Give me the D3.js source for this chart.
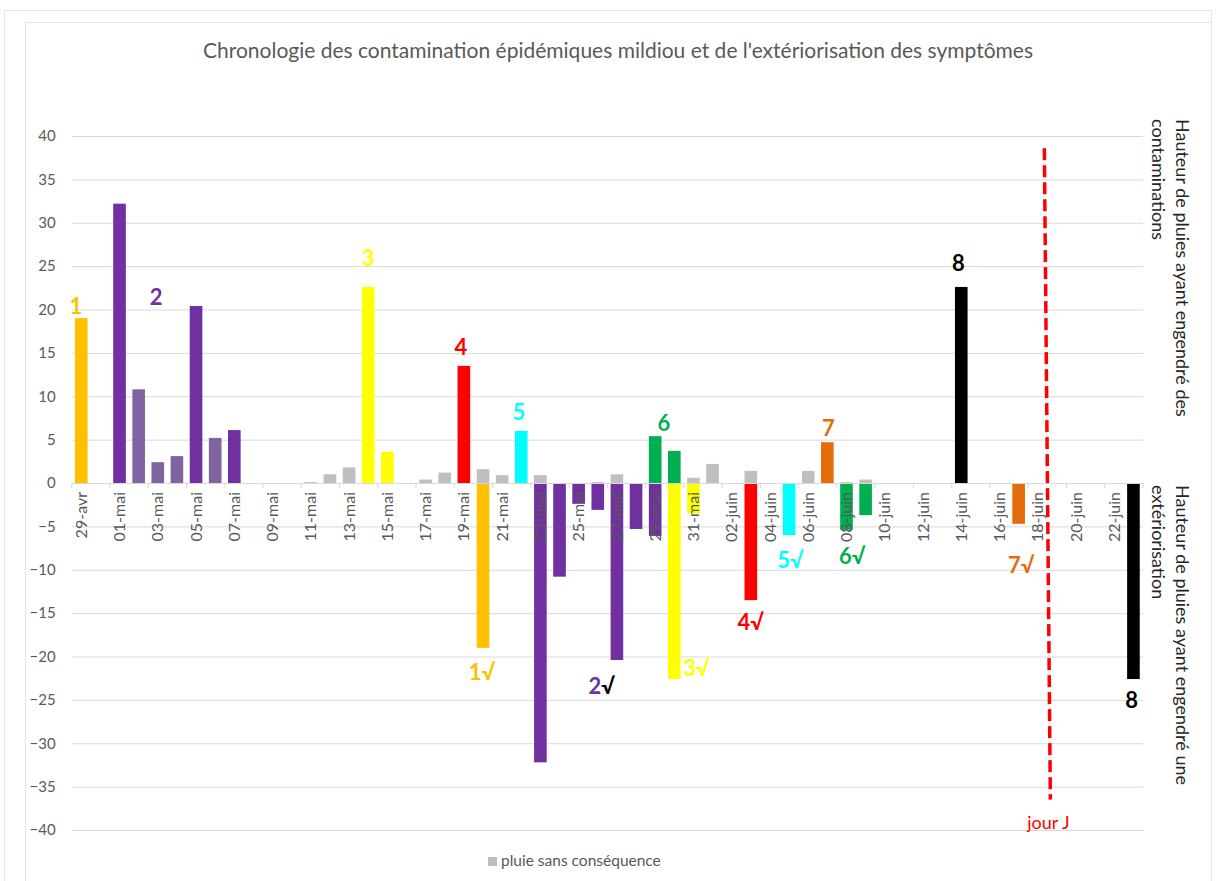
<!DOCTYPE html>
<html>
<head>
<meta charset="utf-8">
<script src="https://cdn.jsdelivr.net/npm/d3@7"></script>
<style>
  body { margin: 0; background: #fff; }
  svg text { font-family: Lato, "Open Sans", sans-serif; }
</style>
</head>
<body>
<script>
// categories (one bar slot per day)
const categories = ["29-avr","30-avr",
  "01-mai","02-mai","03-mai","04-mai","05-mai","06-mai","07-mai","08-mai","09-mai","10-mai",
  "11-mai","12-mai","13-mai","14-mai","15-mai","16-mai","17-mai","18-mai","19-mai","20-mai",
  "21-mai","22-mai","23-mai","24-mai","25-mai","26-mai","27-mai","28-mai","29-mai","30-mai","31-mai",
  "01-juin","02-juin","03-juin","04-juin","05-juin","06-juin","07-juin","08-juin","09-juin","10-juin",
  "11-juin","12-juin","13-juin","14-juin","15-juin","16-juin","17-juin","18-juin","19-juin","20-juin",
  "21-juin","22-juin","23-juin"];

const tickLabels = ["29-avr","01-mai","03-mai","05-mai","07-mai","09-mai","11-mai","13-mai","15-mai",
  "17-mai","19-mai","21-mai","23-mai","25-mai","27-mai","29-mai","31-mai","02-juin","04-juin",
  "06-juin","08-juin","10-juin","12-juin","14-juin","16-juin","18-juin","20-juin","22-juin"];

const yTicks = [40, 35, 30, 25, 20, 15, 10, 5, 0, -5, -10, -15, -20, -25, -30, -35, -40];

// rain that caused a contamination  [day, mm, episode]
const contamination = [
  ["29-avr", 19.0, "1"], ["01-mai", 32.2, "2"], ["02-mai", 10.8, "2b"], ["03-mai", 2.4, "2b"],
  ["04-mai", 3.1, "2b"], ["05-mai", 20.4, "2"], ["06-mai", 5.2, "2b"], ["07-mai", 6.1, "2"],
  ["14-mai", 22.6, "3"], ["15-mai", 3.6, "3"], ["19-mai", 13.5, "4"], ["22-mai", 6.0, "5"],
  ["29-mai", 5.4, "6"], ["30-mai", 3.7, "6"], ["07-juin", 4.7, "7"], ["14-juin", 22.6, "8"]
];

// same rain, drawn negative on the day the symptoms came out
const exteriorisation = [
  ["20-mai", -19.0, "1"], ["23-mai", -32.2, "2"], ["24-mai", -10.8, "2"], ["25-mai", -2.4, "2"],
  ["26-mai", -3.1, "2"], ["27-mai", -20.4, "2"], ["28-mai", -5.3, "2"], ["29-mai", -6.1, "2"],
  ["30-mai", -22.6, "3"], ["31-mai", -3.5, "3"], ["03-juin", -13.5, "4"], ["05-juin", -6.0, "5"],
  ["08-juin", -5.4, "6"], ["09-juin", -3.7, "6"], ["17-juin", -4.7, "7"], ["23-juin", -22.6, "8"]
];

// pluie sans conséquence [day, mm]
const pluieSansConsequence = [
  ["11-mai", 0.1], ["12-mai", 1.0], ["13-mai", 1.8], ["17-mai", 0.4], ["18-mai", 1.2],
  ["20-mai", 1.6], ["21-mai", 0.9], ["23-mai", 0.9], ["26-mai", 0.1], ["27-mai", 1.0],
  ["31-mai", 0.6], ["01-juin", 2.2], ["03-juin", 1.4], ["06-juin", 1.4], ["08-juin", 0.1],
  ["09-juin", 0.4]
];

// episode labels [text, episode, day, shift (in days), value]
const labels = [
  ["1", "1", "29-avr", -0.28, 19.5], ["2", "2", "03-mai", -0.09, 20.5], ["3", "3", "14-mai", 0, 25.0],
  ["4", "4", "19-mai", -0.16, 14.8], ["5", "5", "22-mai", -0.13, 7.3], ["6", "6", "29-mai", 0.45, 6.0],
  ["7", "7", "07-juin", 0.05, 5.4], ["8", "8", "14-juin", -0.15, 24.4],
  ["1√", "1", "20-mai", -0.05, -22.7], ["2√", "2", "26-mai", 0.2, -24.3], ["3√", "3", "31-mai", 0.16, -22.3],
  ["4√", "4", "03-juin", 0, -16.9], ["5√", "5", "05-juin", 0.07, -9.8], ["6√", "6", "08-juin", 0.3, -9.3],
  ["7√", "7", "17-juin", 0.13, -10.4], ["8", "8", "23-juin", -0.1, -25.9]
];

const jourJ = "19-juin";
const jourJRange = [38.6, -36.5];

const colors = {
  "1": "#FFC000", "2": "#7030A0", "2b": "#8064A2", "3": "#FFFF00", "4": "#FF0000",
  "5": "#00FFFF", "6": "#00B050", "7": "#E46C0A", "8": "#000000"
};
const grey = "#BFBFBF";

const W = 1216, H = 881;
const plotLeft = 71.7, plotRight = 1143, plotTop = 136, plotBottom = 830;

const svg = d3.select("body").append("svg")
  .attr("width", W).attr("height", H);

// frame
svg.append("rect").attr("x", 4.5).attr("y", 10.5).attr("width", 1207).attr("height", 900)
  .attr("fill", "none").attr("stroke", "#E4E4E4").attr("stroke-width", 1);
svg.append("path").attr("d", "M25.5,890V22.5H1211")
  .attr("fill", "none").attr("stroke", "#E4E4E4");

const x = d3.scaleBand().domain(categories).range([plotLeft, plotRight])
  .paddingInner(0.34).paddingOuter(0.17);
const y = d3.scaleLinear().domain([-40, 40]).range([plotBottom, plotTop]);
const step = x.step();

// gridlines + y labels
const yAxis = svg.append("g").attr("transform", `translate(${plotLeft},0)`)
  .call(d3.axisLeft(y).tickValues(yTicks).tickSize(-(plotRight - plotLeft)).tickPadding(16));
yAxis.select(".domain").remove();
yAxis.selectAll(".tick line").attr("stroke", "#D9D9D9");
yAxis.selectAll(".tick text").attr("fill", "#595959").style("font-size", "15px");

function bars(data, fill) {
  svg.append("g").selectAll("rect").data(data).enter().append("rect")
    .attr("x", d => x(d[0]))
    .attr("width", x.bandwidth())
    .attr("y", d => y(Math.max(0, d[1])))
    .attr("height", d => Math.abs(y(d[1]) - y(0)))
    .attr("fill", fill);
}
bars(pluieSansConsequence, grey);
bars(contamination, d => colors[d[2]]);
bars(exteriorisation, d => colors[d[2]]);

// x axis
const xAxis = svg.append("g").attr("transform", `translate(0,${y(0)})`)
  .call(d3.axisBottom(x).tickValues(tickLabels).tickSize(0));
xAxis.select(".domain").attr("stroke", "#D9D9D9");
xAxis.selectAll(".tick text")
  .attr("transform", "rotate(-90)")
  .attr("x", -9).attr("y", 0).attr("dy", "0.35em")
  .attr("text-anchor", "end")
  .attr("fill", "#595959")
  .style("font-size", "16px");
// tick marks every two days, on the slot edges
xAxis.selectAll(".edge").data(d3.range(0, categories.length + 1, 2)).enter().append("line")
  .attr("x1", i => plotLeft + i * step).attr("x2", i => plotLeft + i * step)
  .attr("y1", 0).attr("y2", 5)
  .attr("stroke", "#D9D9D9");

// episode numbers
const lab = svg.append("g").selectAll("text").data(labels).enter().append("text")
  .attr("x", d => x(d[2]) + x.bandwidth() / 2 + d[3] * step)
  .attr("y", d => y(d[4]))
  .attr("text-anchor", "middle")
  .style("font-size", "22px").style("font-weight", "bold");
lab.each(function(d) {
  const t = d3.select(this);
  t.append("tspan").attr("fill", colors[d[1]]).text(d[0].charAt(0));
  if (d[0].length > 1)
    t.append("tspan").attr("fill", d[1] === "2" ? "#000" : colors[d[1]]).text(d[0].slice(1));
});

// jour J
const xj = x(jourJ) - (step - x.bandwidth()) / 2;
svg.append("line")
  .attr("x1", xj - 3).attr("x2", xj + 3)
  .attr("y1", y(jourJRange[0])).attr("y2", y(jourJRange[1]))
  .attr("stroke", "#FF0000").attr("stroke-width", 3.5)
  .attr("stroke-dasharray", "12,5");
svg.append("text").attr("x", xj + 1).attr("y", y(jourJRange[1]) + 29)
  .attr("text-anchor", "middle").attr("fill", "#FF0000")
  .style("font-size", "18px").text("jour J");

// title
svg.append("text").attr("x", 618).attr("y", 58).attr("text-anchor", "middle")
  .attr("fill", "#595959").style("font-size", "21px")
  .text("Chronologie des contamination épidémiques mildiou et de l'extériorisation des symptômes");

// right-hand titles
function sideTitle(y0, l1, l2) {
  const g = svg.append("g").attr("transform", `translate(1176,${y0}) rotate(90)`)
    .attr("fill", "#262626").style("font-size", "18px");
  g.append("text").attr("x", 0).attr("y", 0).text(l1);
  g.append("text").attr("x", 0).attr("y", 24).text(l2);
}
sideTitle(119, "Hauteur de pluies ayant engendré des", "contaminations");
sideTitle(485, "Hauteur de pluies ayant engendré une", "extériorisation");

// legend
svg.append("rect").attr("x", 488).attr("y", 857).attr("width", 9).attr("height", 9).attr("fill", grey);
svg.append("text").attr("x", 501).attr("y", 866).attr("fill", "#595959")
  .style("font-size", "15.5px").text("pluie sans conséquence");
</script>
</body>
</html>
